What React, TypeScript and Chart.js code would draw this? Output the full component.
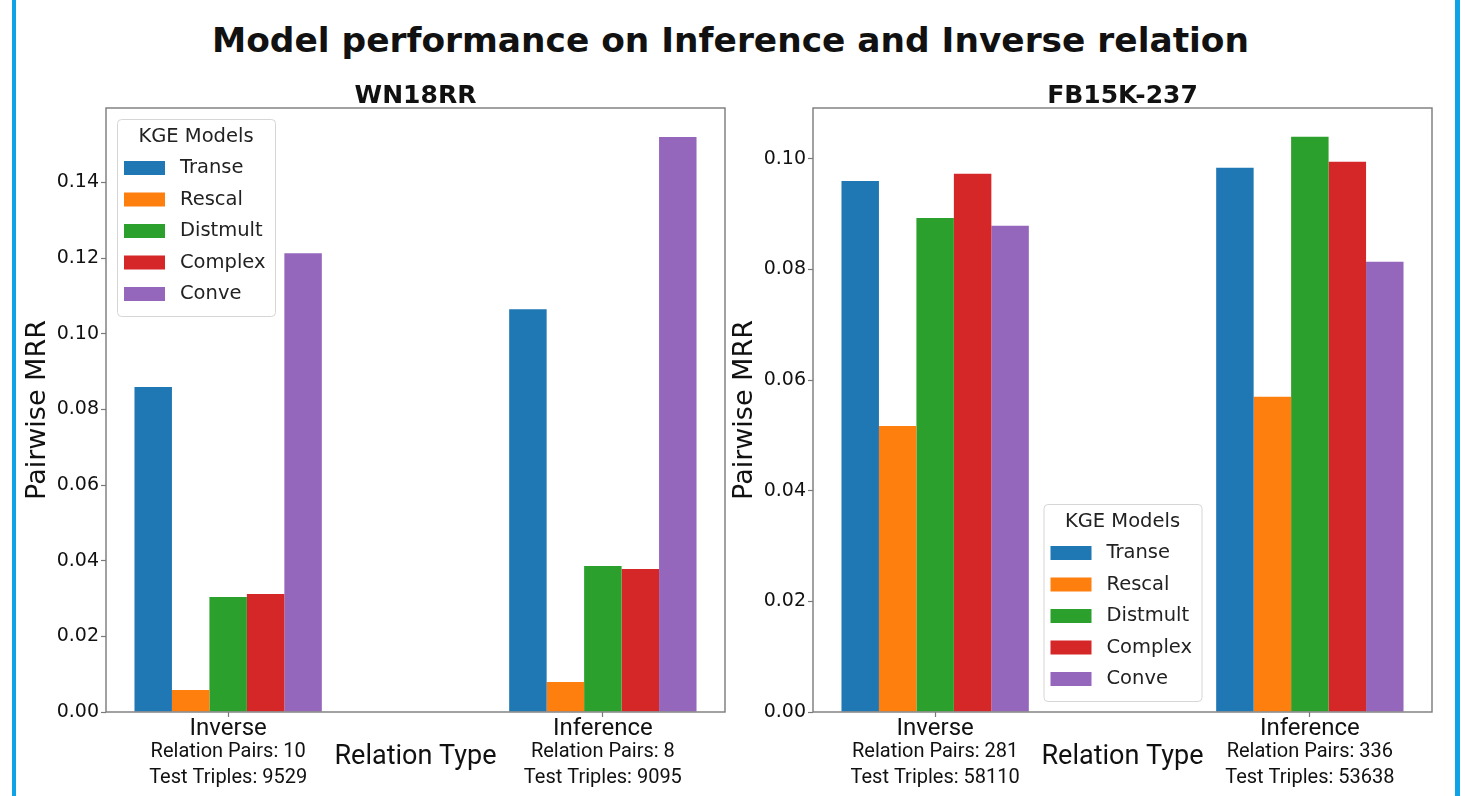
import React, { useEffect, useRef } from "react";
import { Chart, registerables } from "chart.js";
Chart.register(...registerables);

const categories = ["Inverse", "Inference"];
const models = ["Transe", "Rescal", "Distmult", "Complex", "Conve"];
const colors = ["#1f77b4", "#ff7f0e", "#2ca02c", "#d62728", "#9467bd"];

const wnTranse = [0.0859, 0.1065];
const wnRescal = [0.0058, 0.0079];
const wnDistmult = [0.0304, 0.0386];
const wnComplex = [0.0312, 0.0378];
const wnConve = [0.1213, 0.152];

const fbTranse = [0.096, 0.0984];
const fbRescal = [0.0517, 0.057];
const fbDistmult = [0.0893, 0.104];
const fbComplex = [0.0973, 0.0995];
const fbConve = [0.0879, 0.0814];

const wnPairs = [10, 8];
const wnTriples = [9529, 9095];
const fbPairs = [281, 336];
const fbTriples = [58110, 53638];

const wnYTicks = [0, 0.02, 0.04, 0.06, 0.08, 0.1, 0.12, 0.14];
const fbYTicks = [0, 0.02, 0.04, 0.06, 0.08, 0.1];
const wnYMax = 0.1597;
const fbYMax = 0.1092;

const mainTitle = "Model performance on Inference and Inverse relation";
const legendTitle = "KGE Models";
const xAxisTitle = "Relation Type";
const yAxisTitle = "Pairwise MRR";

const AXIS = "#7a7a7a";
const TEXT = "#111";

type Cfg = {
  title: string;
  series: number[][];
  pairs: number[];
  triples: number[];
  yTicks: number[];
  yMax: number;
  legendPos: "upperLeft" | "lowerCenter";
};

function decorPlugin(cfg: Cfg) {
  return {
    id: "decor",
    afterDraw(chart: any) {
      const { ctx, chartArea: a } = chart;
      const xs = chart.scales.x;
      ctx.save();
      // frame
      ctx.strokeStyle = AXIS;
      ctx.lineWidth = 1.4;
      ctx.strokeRect(a.left, a.top, a.right - a.left, a.bottom - a.top);
      // subtitle
      ctx.fillStyle = TEXT;
      ctx.textAlign = "center";
      ctx.textBaseline = "alphabetic";
      ctx.font = 'bold 25px "DejaVu Sans"';
      ctx.fillText(cfg.title, (a.left + a.right) / 2, a.top - 5);
      // sub labels
      ctx.textBaseline = "middle";
      ctx.font = "20px Roboto";
      categories.forEach((_, i) => {
        const px = xs.getPixelForValue(i);
        ctx.fillText(`Relation Pairs: ${cfg.pairs[i]}`, px, a.bottom + 40);
        ctx.fillText(`Test Triples: ${cfg.triples[i]}`, px, a.bottom + 66);
      });
      ctx.font = "27px Roboto";
      ctx.fillText(xAxisTitle, (a.left + a.right) / 2, a.bottom + 45);
      // legend
      const w = 158;
      const h = 197;
      let lx: number, ly: number;
      if (cfg.legendPos === "upperLeft") {
        lx = a.left + 11;
        ly = a.top + 11;
      } else {
        lx = (a.left + a.right) / 2 - w / 2;
        ly = a.bottom - 11 - h;
      }
      ctx.beginPath();
      ctx.roundRect(lx + 0.5, ly + 0.5, w, h, 4);
      ctx.fillStyle = "rgba(255,255,255,0.8)";
      ctx.fill();
      ctx.strokeStyle = "#d6d6d6";
      ctx.lineWidth = 1;
      ctx.stroke();
      ctx.fillStyle = "#222";
      ctx.font = '19.5px "DejaVu Sans"';
      ctx.textAlign = "center";
      ctx.fillText(legendTitle, lx + w / 2, ly + 18);
      ctx.textAlign = "left";
      models.forEach((m, i) => {
        const cy = ly + 49 + i * 31.5;
        ctx.fillStyle = colors[i];
        ctx.fillRect(lx + 7, cy - 7, 41, 14);
        ctx.fillStyle = "#222";
        ctx.fillText(m, lx + 63, cy);
      });
      ctx.restore();
    },
  };
}

function makeConfig(cfg: Cfg, pad: any): any {
  return {
    type: "bar",
    data: {
      datasets: models.map((m, i) => ({
        label: m,
        data: categories.map((_, j) => ({ x: j, y: cfg.series[i][j] })),
        backgroundColor: colors[i],
        borderWidth: 0,
        categoryPercentage: 0.5,
        barPercentage: 1.0,
      })),
    },
    options: {
      responsive: false,
      animation: false,
      layout: { padding: pad },
      plugins: { legend: { display: false }, tooltip: { enabled: false }, title: { display: false } },
      scales: {
        x: {
          type: "linear",
          min: -0.326,
          max: 1.326,
          offset: false,
          afterBuildTicks: (s: any) => {
            s.ticks = categories.map((_, i) => ({ value: i }));
          },
          afterFit: (s: any) => {
            s.height = 84;
          },
          grid: {
            display: true,
            drawOnChartArea: false,
            drawTicks: true,
            tickLength: 5,
            tickColor: AXIS,
            tickWidth: 1.2,
            offset: false,
          },
          border: { display: false },
          ticks: {
            padding: 0,
            maxRotation: 0,
            autoSkip: false,
            color: TEXT,
            font: { family: "Roboto", size: 24, lineHeight: 1.0 },
            callback: (_v: any, i: number) => categories[i],
          },
        },
        y: {
          type: "linear",
          min: 0,
          max: cfg.yMax,
          afterBuildTicks: (s: any) => {
            s.ticks = cfg.yTicks.map((v) => ({ value: v }));
          },
          afterFit: (s: any) => {
            s.width = 83;
          },
          grid: {
            display: true,
            drawOnChartArea: false,
            drawTicks: true,
            tickLength: 5,
            tickColor: AXIS,
            tickWidth: 1.2,
          },
          border: { display: false },
          ticks: {
            padding: 2,
            color: TEXT,
            font: { family: "DejaVu Sans", size: 19 },
            callback: (v: any) => Number(v).toFixed(2),
          },
          title: {
            display: true,
            text: yAxisTitle,
            color: TEXT,
            padding: 0,
            font: { family: "DejaVu Sans", size: 27, lineHeight: 1.1 },
          },
        },
      },
    },
    plugins: [decorPlugin(cfg)],
  };
}

const wnCfg: Cfg = {
  title: "WN18RR",
  series: [wnTranse, wnRescal, wnDistmult, wnComplex, wnConve],
  pairs: wnPairs,
  triples: wnTriples,
  yTicks: wnYTicks,
  yMax: wnYMax,
  legendPos: "upperLeft",
};
const fbCfg: Cfg = {
  title: "FB15K-237",
  series: [fbTranse, fbRescal, fbDistmult, fbComplex, fbConve],
  pairs: fbPairs,
  triples: fbTriples,
  yTicks: fbYTicks,
  yMax: fbYMax,
  legendPos: "lowerCenter",
};

function ChartCanvas({ cfg, left, width, pad }: { cfg: Cfg; left: number; width: number; pad: any }) {
  const ref = useRef<HTMLCanvasElement | null>(null);
  useEffect(() => {
    if (!ref.current) return;
    const c = new Chart(ref.current, makeConfig(cfg, pad));
    return () => c.destroy();
  }, []);
  return (
    <canvas
      ref={ref}
      width={width}
      height={736}
      style={{ position: "absolute", left, top: 60, width, height: 736 }}
    />
  );
}

export default function App() {
  return (
    <div
      style={{
        position: "fixed",
        left: 0,
        top: 0,
        width: 1465,
        height: 796,
        background: "#fff",
        overflow: "hidden",
      }}
    >
      <div style={{ position: "absolute", left: 12, top: 0, width: 4, height: 796, background: "#0ea2e6" }} />
      <div style={{ position: "absolute", left: 1455, top: 0, width: 5, height: 796, background: "#0ea2e6" }} />
      <div
        style={{
          position: "absolute",
          left: 0,
          top: 19,
          width: 1461,
          textAlign: "center",
          fontFamily: '"DejaVu Sans"',
          fontWeight: "bold",
          fontSize: 34.4,
          lineHeight: "42px",
          color: TEXT,
        }}
      >
        {mainTitle}
      </div>
      <ChartCanvas cfg={wnCfg} left={16} width={716} pad={{ left: 7, right: 7, top: 48, bottom: 0 }} />
      <ChartCanvas cfg={fbCfg} left={724} width={726} pad={{ left: 6, right: 18, top: 48, bottom: 0 }} />
    </div>
  );
}
